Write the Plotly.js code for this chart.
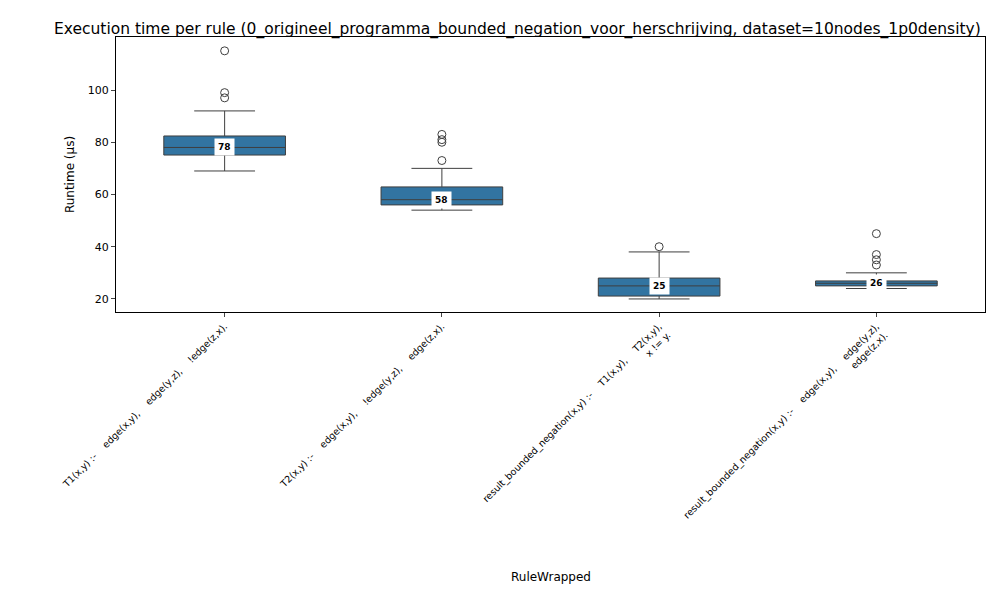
<!DOCTYPE html>
<html>
<head>
<script src="https://cdn.plot.ly/plotly-3.0.1.min.js"></script>
<style>body{margin:0}</style>
</head>
<body>
<div id="chart" style="width:1000px;height:600px"></div>
<script>
var rules = [
  'T1(x,y) :-    edge(x,y),    edge(y,z),    !edge(z,x).',
  'T2(x,y) :-    edge(x,y),    !edge(y,z),    edge(z,x).',
  'result_bounded_negation(x,y) :-    T1(x,y),    T2(x,y),<br>x != y.',
  'result_bounded_negation(x,y) :-    edge(x,y),    edge(y,z),<br>edge(z,x).'
];
var q1 = [75.1, 56.0, 21.1, 25.0];
var medians = [78, 58, 25, 26];
var q3 = [82.4, 62.9, 28.0, 26.9];
var lowWhisker = [69, 54, 20, 24];
var highWhisker = [92, 70, 38, 30];
var outlierRule = [0, 0, 0, 1, 1, 1, 1, 2, 3, 3, 3, 3];
var outlierValue = [97, 99, 115, 73, 80, 81, 83, 40, 33, 35, 37, 45];

var lineColor = '#3f3f3f';
var boxTrace = {
  type: 'box',
  x: rules,
  q1: q1, median: medians, q3: q3,
  lowerfence: lowWhisker, upperfence: highWhisker,
  fillcolor: '#3274a1',
  line: {color: lineColor, width: 1},
  whiskerwidth: 0.5,
  boxpoints: false,
  hoverinfo: 'y'
};
var outTrace = {
  type: 'scatter', mode: 'markers',
  x: outlierRule.map(function (i) { return rules[i]; }),
  y: outlierValue,
  marker: {symbol: 'circle-open', size: 8, color: lineColor, line: {width: 1}},
  hoverinfo: 'y'
};
var annotations = rules.map(function (r, i) {
  return {
    x: r, y: medians[i], text: '<b>' + medians[i] + '</b>', showarrow: false,
    font: {size: 9, color: 'black', family: 'DejaVu Sans'},
    bgcolor: 'white', borderpad: 3
  };
});
annotations.push({
  xref: 'paper', yref: 'paper', x: 0.5, y: -0.964, yanchor: 'middle',
  text: 'RuleWrapped', showarrow: false, font: {size: 12}
});

var layout = {
  width: 1000, height: 600,
  margin: {l: 116, r: 15, t: 37, b: 288},
  paper_bgcolor: 'white', plot_bgcolor: 'white',
  showlegend: false,
  boxgap: 0.2,
  font: {family: 'DejaVu Sans', size: 11, color: 'black'},
  title: {
    text: 'Execution time per rule (0_origineel_programma_bounded_negation_voor_herschrijving, dataset=10nodes_1p0density)',
    x: 0.054, xanchor: 'left', y: 0.962, font: {size: 15.5}
  },
  xaxis: {
    automargin: false,
    tickangle: -45, tickfont: {size: 9.5},
    showline: true, mirror: true, linecolor: 'black',
    ticks: 'outside', ticklen: 4, showgrid: false
  },
  yaxis: {
    automargin: false,
    title: {text: 'Runtime (µs)', font: {size: 12}, standoff: 10},
    range: [15, 120.3],
    tickvals: [20, 40, 60, 80, 100],
    showline: true, mirror: true, linecolor: 'black',
    ticks: 'outside', ticklen: 4, showgrid: false, zeroline: false
  },
  annotations: annotations
};

Plotly.newPlot('chart', [boxTrace, outTrace], layout, {displayModeBar: false});
</script>
</body>
</html>
